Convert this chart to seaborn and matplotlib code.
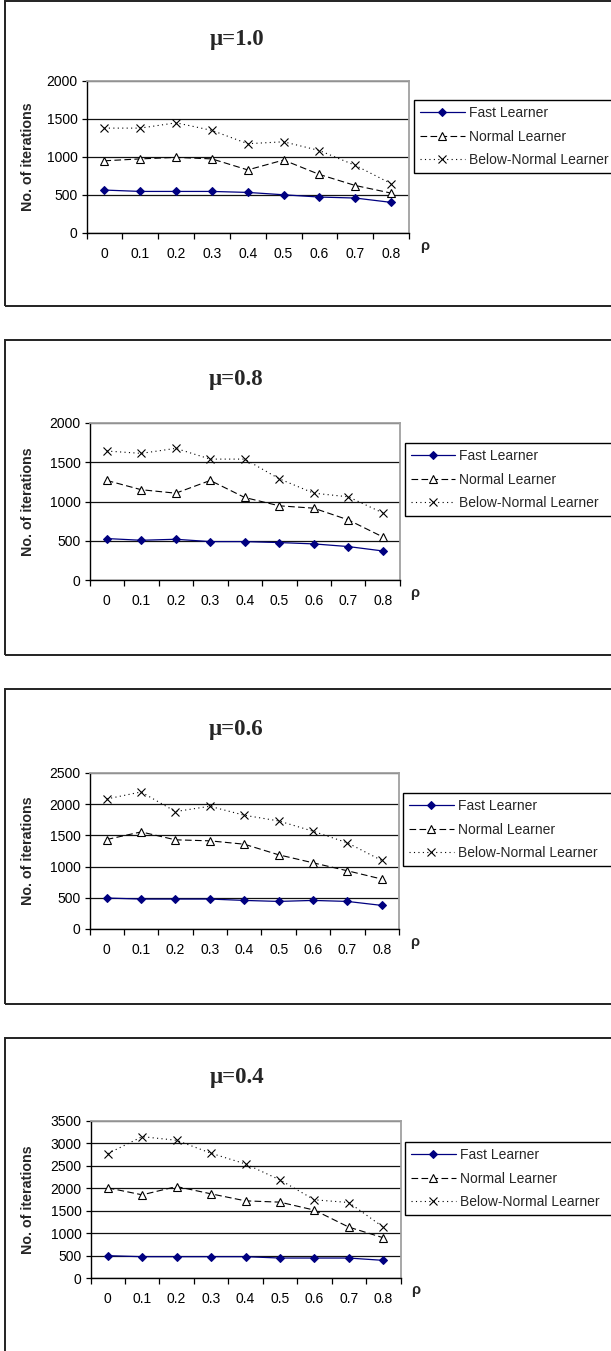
import numpy as np
import matplotlib
matplotlib.use('Agg')
import matplotlib.pyplot as plt
import seaborn as sns
from matplotlib.patches import Rectangle

sns.set_theme(style='white')
plt.rcParams['font.family'] = ['Liberation Sans', 'DejaVu Sans']

# rho values (category axis)
rho_labels = ['0', '0.1', '0.2', '0.3', '0.4', '0.5', '0.6', '0.7', '0.8']
series_names = ['Fast Learner', 'Normal Learner', 'Below-Normal Learner']

# mu = 1.0
fast_mu10 = [565, 547, 547, 547, 534, 503, 473, 460, 403]
normal_mu10 = [950, 975, 995, 975, 830, 960, 770, 625, 525]
below_mu10 = [1380, 1380, 1450, 1350, 1175, 1200, 1085, 890, 650]

# mu = 0.8
fast_mu08 = [528, 506, 519, 489, 489, 477, 460, 426, 370]
normal_mu08 = [1268, 1150, 1106, 1268, 1051, 945, 915, 766, 549]
below_mu08 = [1643, 1613, 1677, 1540, 1540, 1289, 1106, 1060, 855]

# mu = 0.6
fast_mu06 = [496, 480, 480, 480, 458, 442, 458, 442, 378]
normal_mu06 = [1434, 1556, 1429, 1413, 1359, 1189, 1061, 933, 800]
below_mu06 = [2084, 2196, 1882, 1967, 1823, 1732, 1567, 1381, 1098]

# mu = 0.4
fast_mu04 = [497, 475, 475, 475, 475, 445, 445, 445, 393]
normal_mu04 = [2010, 1854, 2039, 1876, 1720, 1691, 1513, 1134, 897]
below_mu04 = [2773, 3151, 3070, 2781, 2543, 2187, 1743, 1683, 1134]

titles = ['μ=1.0', 'μ=0.8', 'μ=0.6', 'μ=0.4']
y_max = [2000, 2000, 2500, 3500]
y_step = [500, 500, 500, 500]
data = [
    (fast_mu10, normal_mu10, below_mu10),
    (fast_mu08, normal_mu08, below_mu08),
    (fast_mu06, normal_mu06, below_mu06),
    (fast_mu04, normal_mu04, below_mu04),
]

# layout in pixels: axes (left, right, top, bottom), title xy, legend xy, rho xy, box (top, bottom)
layout = [
    dict(ax=(86.5, 409, 81, 233), title=(237, 39), leg=(414, 100), rho=(425, 246), box=(1, 306)),
    dict(ax=(89.5, 400, 423, 580), title=(236, 379), leg=(404.5, 443), rho=(415, 593), box=(340, 655)),
    dict(ax=(89.5, 399, 773, 929), title=(236, 729), leg=(403, 793), rho=(415, 942), box=(689, 1004)),
    dict(ax=(90.5, 400.5, 1121, 1278), title=(236.5, 1077), leg=(405, 1142), rho=(416, 1290), box=(1038, 1370)),
]

W, H = 611, 1351
fig = plt.figure(figsize=(W / 100, H / 100), dpi=100)


def fx(px):
    return px / W


def fy(py):
    return 1 - py / H


navy = '#000080'
pos = np.arange(len(rho_labels))

for i in range(4):
    lay = layout[i]
    l, r, t, b = lay['ax']
    ax = fig.add_axes([fx(l), fy(b), (r - l) / W, (b - t) / H])
    fast, normal, below = data[i]

    sns.lineplot(x=pos, y=fast, ax=ax, color=navy, linewidth=0.9, marker='D', markersize=4.3,
                 markeredgecolor=navy, markerfacecolor=navy, label=series_names[0],
                 errorbar=None, legend=False)
    sns.lineplot(x=pos, y=normal, ax=ax, color='black', linewidth=0.8, linestyle=(0, (6, 3)),
                 marker='^', markersize=5.5, markeredgecolor='black', markerfacecolor='white',
                 markeredgewidth=0.8, label=series_names[1], errorbar=None, legend=False)
    sns.lineplot(x=pos, y=below, ax=ax, color='black', linewidth=0.8, linestyle=(0, (1, 3)),
                 marker='x', markersize=5.5, markeredgecolor='black', markeredgewidth=0.8,
                 label=series_names[2], errorbar=None, legend=False)

    ax.set_xlim(-0.5, len(rho_labels) - 0.5)
    ax.set_ylim(0, y_max[i])
    ax.set_yticks(np.arange(0, y_max[i] + 1, y_step[i]))
    ax.set_xticks(np.arange(-0.5, len(rho_labels), 1))
    ax.set_xticklabels([])
    ax.set_xticks(pos, minor=True)
    ax.set_xticklabels(rho_labels, minor=True)
    ax.set_xlabel('')
    ax.set_ylabel('')

    ax.yaxis.grid(True, color='#111111', linewidth=0.9)
    ax.xaxis.grid(False)
    ax.set_axisbelow(True)

    ax.tick_params(axis='x', which='major', bottom=True, direction='out', length=4,
                   width=0.9, color='black', labelbottom=False)
    ax.tick_params(axis='x', which='minor', bottom=True, length=0, pad=10,
                   labelsize=10, labelcolor='black')
    ax.tick_params(axis='y', left=True, direction='out', length=3.5, width=0.9,
                   color='black', pad=3, labelsize=10, labelcolor='black')

    for side in ['left', 'bottom']:
        ax.spines[side].set_color('black')
        ax.spines[side].set_linewidth(1.0)
    for side in ['top', 'right']:
        ax.spines[side].set_color('#a0a0a0')
        ax.spines[side].set_linewidth(1.3)

    # legend box runs past the right edge of the picture, as in the original
    lx, ly = lay['leg']
    handles = ax.get_lines()[:3]
    leg = ax.legend(handles=handles, labels=series_names, loc='upper left',
                    bbox_to_anchor=(fx(lx), fy(ly), fx(680) - fx(lx), 0), mode='expand',
                    bbox_transform=fig.transFigure, borderaxespad=0, frameon=True,
                    fancybox=False, edgecolor='black', framealpha=1, fontsize=10,
                    handlelength=3.2, handletextpad=0.3, labelspacing=0.68, borderpad=0.45)
    leg.get_frame().set_linewidth(1.0)

    fig.text(fx(lay['title'][0]), fy(lay['title'][1]), titles[i], ha='center', va='center',
             family=['Liberation Serif', 'DejaVu Serif'], weight='bold', size=16.5)
    fig.text(fx(lay['rho'][0]), fy(lay['rho'][1]), 'ρ', ha='center', va='center',
             weight='bold', size=10.5)
    fig.text(fx(28), fy((t + b) / 2), 'No. of iterations', ha='center', va='center',
             rotation=90, weight='bold', size=10.3)

    bt, bb = lay['box']
    fig.patches.append(Rectangle((fx(4.5), fy(bb)), fx(625) - fx(4.5), fy(bt) - fy(bb),
                                 transform=fig.transFigure, fill=False,
                                 edgecolor='#222222', linewidth=1.4))

fig.savefig('out.png', dpi=100)
